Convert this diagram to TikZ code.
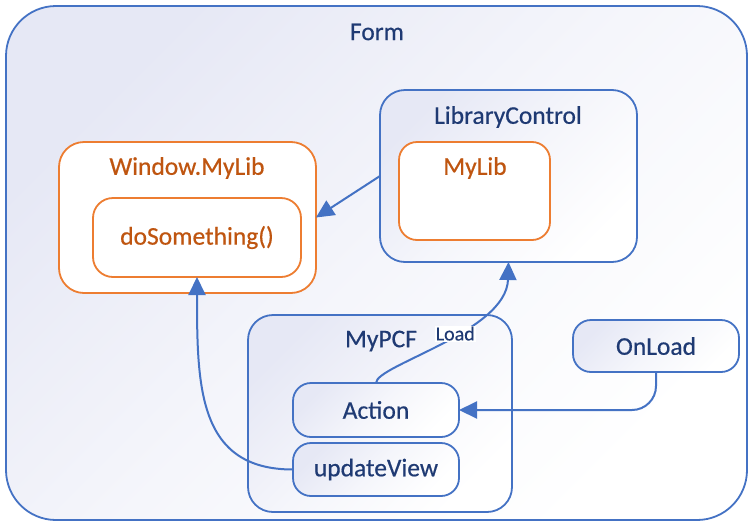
\documentclass[tikz,border=0pt]{standalone}
\usepackage{fontspec}
\setmainfont{Carlito}
\newfontfamily\boxfont{Carlito}[FakeBold=0.5]
\usetikzlibrary{arrows.meta,positioning,calc}
\definecolor{ink}{HTML}{1F3A73}
\definecolor{lineblue}{HTML}{4472C4}
\definecolor{orng}{HTML}{ED7D31}
\definecolor{otext}{HTML}{BF5510}
\definecolor{lav}{HTML}{E6E8F5}

\begin{document}
\begin{tikzpicture}[
    x=1pt, y=-1pt,
    >={Triangle[length=18pt,width=17pt]},
    every node/.style={font=\boxfont\fontsize{25.5}{30}\selectfont},
    frame/.style={draw=lineblue, line width=1.8pt, inner sep=0pt, outer sep=0pt,
        top color=lav, bottom color=white, middle color=white!60!lav, shading angle=45},
    libbox/.style={draw=orng, line width=1.8pt, fill=white, inner sep=0pt, outer sep=0pt},
    ttl/.style={text=ink},
    otl/.style={text=otext},
    flow/.style={lineblue, line width=2pt, ->},
]
\useasboundingbox (0,0) rectangle (751,525);

% ============================================================
% Containers
% ============================================================
\node[frame, rounded corners=50pt, minimum width=741pt, minimum height=514pt] (form) at (376.5,263) {};
\node[ttl] (formlbl) at (377,32) {Form};

% --- Window.MyLib
\node[libbox, rounded corners=25pt, minimum width=257pt, minimum height=151pt] (winlib) at (187.5,217.5) {};
\node[otl] (winlbl) at (187,168) {Window.MyLib};
\node[libbox, rounded corners=20pt, minimum width=208pt, minimum height=79pt, otl] (dosth) at (197,237.5) {doSomething()};

% --- LibraryControl
\node[frame, rounded corners=25pt, minimum width=257pt, minimum height=172pt] (libctl) at (508.5,176) {};
\node[ttl] (libctllbl) at (508,117) {LibraryControl};
\node[libbox, rounded corners=18pt, minimum width=151pt, minimum height=98pt] (mylib) at (474.5,191) {};
\node[otl] (myliblbl) at (475,168) {MyLib};

% --- MyPCF
\node[frame, rounded corners=25pt, minimum width=264pt, minimum height=197pt] (pcf) at (380,413.5) {};
\node[ttl] (pcflbl) at (381,341) {MyPCF};
\node[frame, rounded corners=18pt, minimum width=166pt, minimum height=54pt, ttl] (action) at (376,410) {Action};
\node[frame, rounded corners=18pt, minimum width=166pt, minimum height=53pt, ttl] (upd) at (376,469.5) {updateView};

% --- OnLoad
\node[frame, rounded corners=18pt, minimum width=166pt, minimum height=52pt, ttl] (onload) at (656,346) {OnLoad};

% ============================================================
% Connectors
% ============================================================
\draw[flow] (libctl.west) -- (winlib.east);
\draw[flow] (upd.west) .. controls +(-95,0) and +(0,110) .. (dosth.south);
\draw[flow] (action.north) .. controls +(0,-18) and +(-2,70) .. (libctl.south)
    node[pos=0.57, fill=white, inner sep=1pt, text=ink, font=\boxfont\fontsize{20}{24}\selectfont] (loadlbl) {Load};
\draw[flow, rounded corners=24pt] (onload.south) |- (action.east);

\end{tikzpicture}
\end{document}
